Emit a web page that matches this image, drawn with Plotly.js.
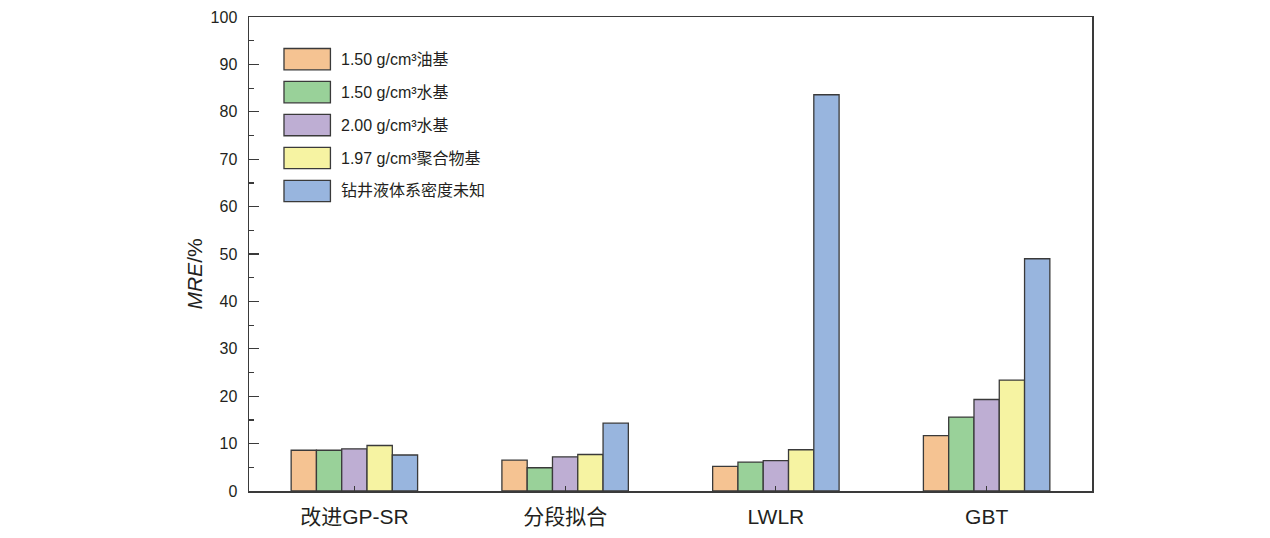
<!DOCTYPE html>
<html>
<head>
<meta charset="utf-8">
<script src="https://cdn.plot.ly/plotly-3.0.1.min.js"></script>
<style>
  html, body { margin: 0; padding: 0; background: #fff; }
  #graph { width: 1270px; height: 538px; }
</style>
</head>
<body>
<div id="graph"></div>
<script>
// methods on the x axis
var methods = ['改进GP-SR', '分段拟合', 'LWLR', 'GBT'];

// one series per drilling fluid system
var seriesNames = ['1.50 g/cm³油基', '1.50 g/cm³水基', '2.00 g/cm³水基', '1.97 g/cm³聚合物基', '钻井液体系密度未知'];
var oil150 = [8.6, 6.5, 5.2, 11.7];
var water150 = [8.6, 4.9, 6.1, 15.6];
var water200 = [8.9, 7.2, 6.4, 19.3];
var poly197 = [9.6, 7.7, 8.7, 23.4];
var unknown = [7.6, 14.3, 83.6, 49.0];

var seriesValues = [oil150, water150, water200, poly197, unknown];
var colors = ['#F5C392', '#99D199', '#BEAED3', '#F6F3A2', '#98B5DE'];

var font = 'Liberation Sans, Arial, Noto Sans CJK SC, sans-serif';
var edge = '#3a3a3a';

var plot_data = [];
for (var i = 0; i < seriesNames.length; i++) {
    plot_data.push({
        type: 'bar',
        name: seriesNames[i],
        x: methods,
        y: seriesValues[i],
        marker: {
            color: colors[i],
            line: { color: edge, width: 1.3 }
        },
        showlegend: false
    });
}

// hand drawn legend, big swatches like the original
var shapes = [];
var annotations = [];
for (var i = 0; i < seriesNames.length; i++) {
    var yc = 91.1 - i * 6.95;
    shapes.push({
        type: 'rect', xref: 'paper', yref: 'y',
        x0: 0.0415, x1: 0.0966, y0: yc - 2.25, y1: yc + 2.25,
        fillcolor: colors[i],
        line: { color: edge, width: 1.3 }
    });
    annotations.push({
        xref: 'paper', yref: 'y', x: 0.107, y: yc,
        xanchor: 'left', yanchor: 'middle',
        text: seriesNames[i], showarrow: false,
        font: { family: font, size: 16, color: '#231F20' }
    });
}

// y title sits a bit below the middle in the original
annotations.push({
    xref: 'paper', yref: 'paper', x: -0.0645, y: 0.458,
    xanchor: 'center', yanchor: 'middle', textangle: -90,
    text: '<i>MRE</i>/%', showarrow: false,
    font: { family: font, size: 21, color: '#231F20' }
});

var layout = {
    width: 1270,
    height: 538,
    paper_bgcolor: '#fff',
    plot_bgcolor: '#fff',
    barmode: 'group',
    bargap: 0.4,
    bargroupgap: 0,
    showlegend: false,
    font: { family: font, size: 15, color: '#231F20' },
    margin: { l: 249, r: 178, t: 17, b: 47 },
    xaxis: {
        type: 'category',
        showline: true, mirror: true,
        linecolor: edge, linewidth: 1.5,
        ticks: 'inside', ticklen: 5, tickwidth: 1.2, tickcolor: edge,
        ticklabelstandoff: 6,
        tickfont: { family: font, size: 21, color: '#231F20' },
        showgrid: false, zeroline: false
    },
    xaxis2: {
        overlaying: 'x', anchor: 'y',
        range: [-0.5, 3.5],
        tickvals: [0.5, 1.5, 2.5],
        ticks: 'inside', ticklen: 5, tickwidth: 1.2, tickcolor: edge,
        showticklabels: false, showline: false,
        showgrid: false, zeroline: false
    },
    yaxis: {
        range: [0, 100],
        dtick: 10,
        showline: true, mirror: true,
        linecolor: edge, linewidth: 1.5,
        ticks: 'inside', ticklen: 10, tickwidth: 1.2, tickcolor: edge,
        minor: { ticks: 'inside', ticklen: 5, dtick: 5, tickwidth: 1.2, tickcolor: edge },
        ticklabelstandoff: 7,
        tickfont: { family: font, size: 16, color: '#231F20' },
        showgrid: false, zeroline: false
    },
    shapes: shapes,
    annotations: annotations
};

Plotly.newPlot('graph', plot_data, layout, { displayModeBar: false, staticPlot: true });
</script>
</body>
</html>
